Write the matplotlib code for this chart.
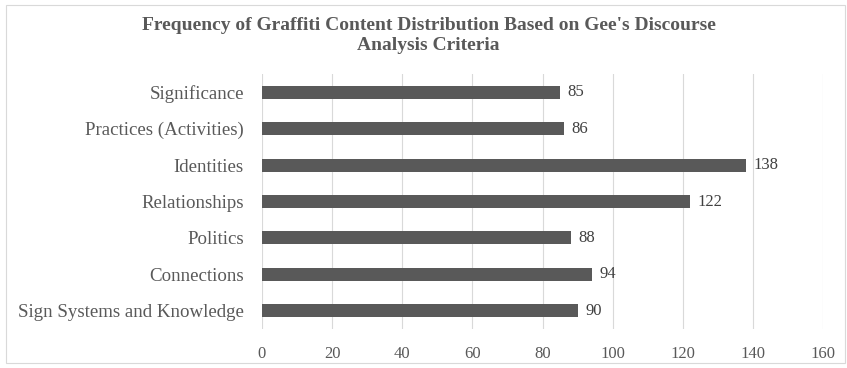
import matplotlib
matplotlib.use("Agg")
import matplotlib.pyplot as plt
from matplotlib.patches import Rectangle

# data, top to bottom as in the chart
categories = ["Significance", "Practices (Activities)", "Identities", "Relationships",
              "Politics", "Connections", "Sign Systems and Knowledge"]
counts = [85, 86, 138, 122, 88, 94, 90]
x_ticks = [0, 20, 40, 60, 80, 100, 120, 140, 160]

plt.rcParams['font.family'] = ['Liberation Serif', 'DejaVu Serif']

fig = plt.figure(figsize=(8.47, 3.68), dpi=100)
ax = fig.add_axes([262/847, 1 - 329/368, (823-262)/847, (329-74)/368])

# light frame around the whole chart
fig.patches.append(Rectangle((6/847, 5/368), 839/847, 358/368, transform=fig.transFigure,
                             fill=False, edgecolor='#d9d9d9', linewidth=0.8))

y = list(range(len(categories)))
bars = ax.barh(y, counts, height=0.36, color='#595959', zorder=3)
ax.set_ylim(len(categories) - 0.5, -0.5)
ax.set_xlim(0, 160)
ax.set_yticks(y)
ax.set_yticklabels(categories, fontsize=13.6, color='#595959')
ax.set_xticks(x_ticks)
ax.set_xticklabels([str(t) for t in x_ticks], fontsize=12, color='#595959')
ax.tick_params(axis='both', length=0)
ax.tick_params(axis='y', pad=13)
ax.tick_params(axis='x', pad=12)
ax.grid(axis='x', color='#d9d9d9', linewidth=0.8, zorder=0)
for s in ax.spines.values():
    s.set_visible(False)

for rect, v in zip(bars, counts):
    ax.text(v + 2.2, rect.get_y() + rect.get_height()/2, str(v), va='center', ha='left',
            fontsize=12, color='#404040')

fig.text(0.506, 0.903, "Frequency of Graffiti Content Distribution Based on Gee's Discourse\nAnalysis Criteria",
         ha='center', va='center', fontsize=14, fontweight='bold', color='#595959', linespacing=1.2)

fig.savefig("out.png", dpi=100)
